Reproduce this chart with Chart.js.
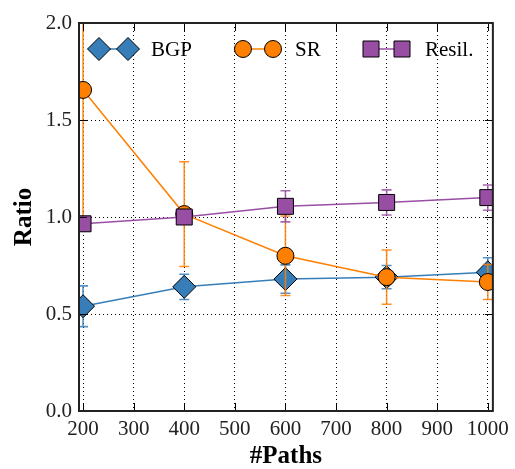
<!DOCTYPE html>
<html>
<head>
<meta charset="utf-8">
<script src="https://cdn.jsdelivr.net/npm/chart.js@4.4.1/dist/chart.umd.min.js"></script>
<style>
html, body { margin: 0; padding: 0; background: #fff; }
#wrap { width: 515px; height: 469px; }
</style>
</head>
<body>
<div id="wrap"><canvas id="chart" width="515" height="469"></canvas></div>
<script>
// #Paths vs ratio, three routing schemes with error bars
const paths = [200, 400, 600, 800, 1000];
const xTicks = [200, 300, 400, 500, 600, 700, 800, 900, 1000];
const yTicks = [0, 0.5, 1.0, 1.5, 2.0];

const bgp      = [0.54, 0.64, 0.68, 0.69, 0.715];
const bgpErr   = [0.105, 0.065, 0.073, 0.06, 0.075];
const sr       = [1.655, 1.015, 0.80, 0.69, 0.665];
const srErr    = [0.68, 0.27, 0.205, 0.14, 0.09];
const resil    = [0.965, 1.0, 1.055, 1.075, 1.10];
const resilErr = [0.03, 0.03, 0.08, 0.065, 0.065];

const BLUE = '#377eb8', ORANGE = '#ff7f00', PURPLE = '#984ea3';
const SERIF = '"Liberation Serif", "DejaVu Serif", serif';

const series = [
    { label: 'BGP',    y: bgp,   err: bgpErr,   color: BLUE,   style: 'rectRot', r: 11.5, order: 3 },
    { label: 'SR',     y: sr,    err: srErr,    color: ORANGE, style: 'circle',  r: 8.5,  order: 2 },
    { label: 'Resil.', y: resil, err: resilErr, color: PURPLE, style: 'rect',    r: 11.3, order: 1 }
];

function marker(ctx, style, x, y, color) {
    ctx.save();
    ctx.fillStyle = color; ctx.strokeStyle = '#000'; ctx.lineWidth = 1;
    ctx.beginPath();
    if (style === 'rectRot') {
        ctx.moveTo(x, y - 11.5); ctx.lineTo(x + 11.5, y); ctx.lineTo(x, y + 11.5); ctx.lineTo(x - 11.5, y); ctx.closePath();
    } else if (style === 'circle') {
        ctx.arc(x, y, 8.5, 0, Math.PI * 2);
    } else {
        ctx.rect(x - 8, y - 8, 16, 16);
    }
    ctx.fill(); ctx.stroke();
    ctx.restore();
}

const extras = {
    id: 'extras',
    beforeDatasetDraw(chart, args) {
        const s = series[args.index];
        const xs = chart.scales.x, ys = chart.scales.y, a = chart.chartArea, ctx = chart.ctx;
        ctx.save();
        ctx.beginPath(); ctx.rect(a.left, a.top, a.right - a.left, a.bottom - a.top); ctx.clip();
        ctx.strokeStyle = s.color; ctx.globalAlpha = 0.85; ctx.lineWidth = 1.6;
        paths.forEach((p, i) => {
            const px = xs.getPixelForValue(p);
            const top = ys.getPixelForValue(s.y[i] + s.err[i]);
            const bot = ys.getPixelForValue(s.y[i] - s.err[i]);
            ctx.beginPath();
            ctx.moveTo(px, top); ctx.lineTo(px, bot);
            ctx.moveTo(px - 5, top); ctx.lineTo(px + 5, top);
            ctx.moveTo(px - 5, bot); ctx.lineTo(px + 5, bot);
            ctx.stroke();
        });
        ctx.restore();
    },
    afterDraw(chart) {
        const xs = chart.scales.x, ys = chart.scales.y, a = chart.chartArea, ctx = chart.ctx;
        ctx.save();
        // inward ticks
        ctx.strokeStyle = '#000'; ctx.lineWidth = 1;
        ctx.beginPath();
        xTicks.forEach(v => {
            const px = Math.round(xs.getPixelForValue(v)) + 0.5;
            ctx.moveTo(px, a.bottom); ctx.lineTo(px, a.bottom - 8);
            ctx.moveTo(px, a.top); ctx.lineTo(px, a.top + 8);
        });
        yTicks.forEach(v => {
            const py = Math.round(ys.getPixelForValue(v)) + 0.5;
            ctx.moveTo(a.left, py); ctx.lineTo(a.left + 8, py);
            ctx.moveTo(a.right, py); ctx.lineTo(a.right - 8, py);
        });
        ctx.stroke();
        // frame
        ctx.strokeStyle = '#222'; ctx.lineWidth = 2;
        ctx.strokeRect(a.left, a.top, a.right - a.left, a.bottom - a.top);
        // legend: marker - line - marker, then text
        const ly = 49;
        const pos = [[99, 128, 151], [243, 273, 295], [371, 402, 425]];
        series.forEach((s, i) => {
            const [x1, x2, tx] = pos[i];
            ctx.strokeStyle = s.color; ctx.lineWidth = 1.5;
            ctx.beginPath(); ctx.moveTo(x1, ly); ctx.lineTo(x2, ly); ctx.stroke();
            marker(ctx, s.style, x1, ly, s.color);
            marker(ctx, s.style, x2, ly, s.color);
            ctx.fillStyle = '#000'; ctx.font = '21px ' + SERIF;
            ctx.textBaseline = 'middle'; ctx.textAlign = 'left';
            ctx.fillText(s.label, tx, ly + 1);
        });
        ctx.restore();
    }
};

function init() {
    const ctx = document.getElementById('chart').getContext('2d');
    new Chart(ctx, {
        type: 'line',
        data: {
            datasets: series.map(s => ({
                label: s.label,
                data: paths.map((p, i) => ({ x: p, y: s.y[i] })),
                borderColor: s.color,
                backgroundColor: s.color,
                borderWidth: 1.5,
                pointStyle: s.style,
                pointRadius: s.r,
                pointHoverRadius: s.r,
                pointBackgroundColor: s.color,
                pointBorderColor: '#000',
                pointBorderWidth: 1,
                order: s.order,
                clip: 0,
                tension: 0
            }))
        },
        options: {
            responsive: false,
            animation: false,
            events: [],
            layout: { padding: { left: 0, right: 15, top: 23, bottom: 0 } },
            plugins: { legend: { display: false }, tooltip: { enabled: false } },
            scales: {
                x: {
                    type: 'linear', min: 192, max: 1010,
                    afterBuildTicks: sc => { sc.ticks = xTicks.map(v => ({ value: v })); },
                    afterFit: sc => { sc.height = 58; },
                    grid: { color: '#000', lineWidth: 1, drawTicks: false },
                    border: { display: false, dash: [1, 3] },
                    ticks: { color: '#222', font: { family: SERIF, size: 21 }, padding: 6, maxRotation: 0, autoSkip: false, callback: v => String(v) },
                    title: { display: true, text: '#Paths', color: '#000', font: { family: SERIF, size: 25, weight: 'bold', lineHeight: 1 }, padding: { top: 0, bottom: 0 } }
                },
                y: {
                    type: 'linear', min: 0, max: 2,
                    afterBuildTicks: sc => { sc.ticks = yTicks.map(v => ({ value: v })); },
                    afterFit: sc => { sc.width = 79; },
                    grid: { color: '#000', lineWidth: 1, drawTicks: false },
                    border: { display: false, dash: [1, 3] },
                    ticks: { color: '#222', font: { family: SERIF, size: 21 }, padding: 7, callback: v => v.toFixed(1) },
                    title: { display: true, text: 'Ratio', color: '#000', font: { family: SERIF, size: 25, weight: 'bold', lineHeight: 1 }, padding: { top: 12, bottom: 0 } }
                }
            }
        },
        plugins: [extras]
    });
}
if (document.readyState === 'loading') document.addEventListener('DOMContentLoaded', init); else init();
</script>
</body>
</html>
